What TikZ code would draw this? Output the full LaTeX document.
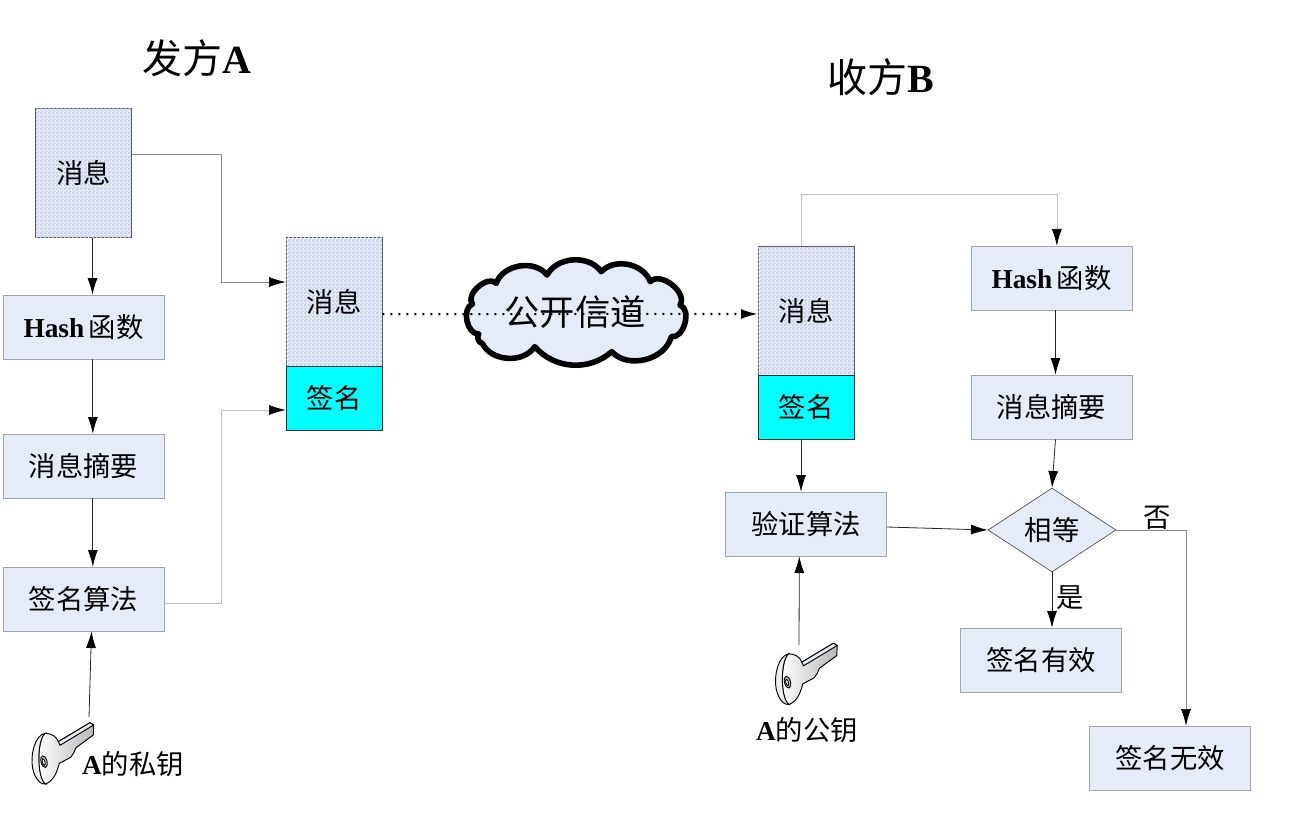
\documentclass[tikz,border=0pt]{standalone}
\usepackage{fontspec}
\setmainfont{Liberation Serif}
\newfontfamily\cjk{Noto Sans CJK SC}
\usetikzlibrary{arrows.meta,shapes.geometric,patterns,calc}
\pgfdeclarepatternformonly{finechecker}{\pgfpointorigin}{\pgfqpoint{3pt}{3pt}}{\pgfqpoint{3pt}{3pt}}{%
  \pgfpathrectangle{\pgfqpoint{0pt}{0pt}}{\pgfqpoint{1.5pt}{1.5pt}}%
  \pgfpathrectangle{\pgfqpoint{1.5pt}{1.5pt}}{\pgfqpoint{1.5pt}{1.5pt}}%
  \pgfusepath{fill}}
\definecolor{boxfill}{HTML}{E6ECF7}
\definecolor{patfill}{HTML}{E8ECF6}
\definecolor{patdot}{HTML}{BCCAE6}
\definecolor{edgegray}{HTML}{A0A5AE}
\definecolor{sigcyan}{HTML}{00FFFF}
\tikzset{
  label19/.style={font=\fontsize{20.5}{22}\selectfont\cjk},
  flowbox/.style={draw=edgegray,line width=.5pt,fill=boxfill,inner sep=0pt,minimum width=120.75pt,minimum height=48pt,label19},
  msgbox/.style={draw=black!65,line width=.5pt,fill=patfill,postaction={pattern=finechecker,pattern color=patdot},inner sep=0pt,minimum width=72pt,minimum height=96.5pt,label19},
  sigbox/.style={draw=black!80,line width=.5pt,fill=sigcyan,inner sep=0pt,minimum width=72pt,minimum height=48pt,label19},
  decision/.style={draw=black!70,line width=.5pt,fill=boxfill,shape=diamond,aspect=1.52,inner sep=0pt,minimum width=96pt,minimum height=63pt,label19},
  flow/.style={line width=.6pt,black!85,-{Latex[length=12.5pt,width=7.5pt,black]}},
  flowlight/.style={line width=.5pt,black!45,-{Latex[length=12.5pt,width=7.5pt,black]}},
  flowfaint/.style={line width=.5pt,black!25,-{Latex[length=12.5pt,width=7.5pt,black]}},
  dottedflow/.style={line width=1.5pt,black,dash pattern=on 1.5pt off 4.5pt,-{Latex[length=12.5pt,width=7.5pt,black]}},
  plaintext/.style={inner sep=0pt,label19},
  titletext/.style={inner sep=0pt,font=\fontsize{30}{32}\selectfont\cjk},
}
\newcommand{\latinb}[1]{{\rmfamily\bfseries #1}}
\newcommand{\keyicon}[2]{%
  \begin{scope}[shift={(#1,#2)},x=.25pt,y=-.25pt,line width=.7pt,draw=black]
    \path[left color=white,right color=black!28,draw=black,line join=round]
      (135,160) .. controls (155,160) and (170,170) .. (175,185)
      -- (270,128) -- (281,135) -- (280,165) -- (228,203)
      .. controls (222,215) and (220,225) .. (212,232)
      -- (178,250) .. controls (172,270) and (165,300) .. (137,312)
      .. controls (110,300) and (110,180) .. (135,160) -- cycle;
    \path[fill=boxfill,draw=black,line join=round]
      (175,185) -- (270,128) -- (281,135) -- (180,196) -- cycle;
    \path[fill=boxfill!70!black!20,draw=black]
      (135,160) .. controls (105,165) and (90,225) .. (98,265)
      .. controls (105,300) and (125,315) .. (137,312)
      .. controls (112,300) and (108,185) .. (135,160) -- cycle;
    \path[fill=black!20,draw=black] (132,245) ellipse[x radius=9,y radius=18,rotate=15];
    \path[fill=white,draw=black] (131,246) ellipse[x radius=4,y radius=10,rotate=15];
  \end{scope}}
\begin{document}
\begin{tikzpicture}[x=.75pt,y=-.75pt]
\useasboundingbox[fill=white] (0,0) rectangle (1296,838);

% titles
\node[titletext] (titleA) at (197,58) {发方\latinb{A}};
\node[titletext] (titleB) at (881,77) {收方\latinb{B}};

% sender
\node[msgbox] (msgA) at (83.5,173) {消息};
\node[flowbox] (hashA) at (83.5,327) {\latinb{Hash}\,函数};
\node[flowbox] (digestA) at (83.5,466) {消息摘要};
\node[flowbox] (signA) at (83.5,599) {签名算法};
\keyicon{0}{680}
\coordinate (keyAtip) at (89,717);
\node[plaintext] (keyAtext) at (133,764) {\latinb{A}的私钥};

% transmitted
\node[msgbox] (msgM) at (334,301.5) {消息};
\node[sigbox] (sigM) at (334,398) {签名};

% cloud
\begin{scope}[shift={(254.75,230)},x=.2625pt,y=-.25pt]
  \path[draw=black,line width=4.2pt,fill=boxfill,line join=round]
    (640,312) to[bend left=80] (622,222)
    to[bend left=90] (690,160)
    to[bend left=62] (835,135)
    to[bend left=58] (990,125)
    to[bend left=58] (1130,155)
    to[bend left=85] (1215,225)
    to[bend left=85] (1190,320)
    to[bend left=62] (1020,365)
    to[bend left=45] (800,350)
    to[bend left=60] (650,340)
    to[bend left=60] cycle;
\end{scope}
\node[inner sep=0pt,font=\fontsize{26.5}{28}\selectfont\cjk] (cloudtext) at (575,312) {公开信道};

% receiver
\node[msgbox] (msgB) at (806,310.5) {消息};
\node[sigbox] (sigB) at (806,407) {签名};
\node[flowbox] (verify) at (806,524) {验证算法};
\node[flowbox] (hashB) at (1051.5,278) {\latinb{Hash}\,函数};
\node[flowbox] (digestB) at (1051.5,407) {消息摘要};
\node[decision] (equal) at (1052,530) {相等};
\node[flowbox] (valid) at (1041,660) {签名有效};
\node[flowbox] (invalid) at (1170,758) {签名无效};
\keyicon{743.5}{600.5}
\coordinate (keyBtip) at (799,645);
\node[plaintext] (keyBtext) at (807,730) {\latinb{A}的公钥};

% connectors: sender
\draw[flow] ([xshift=6.75pt]msgA.south) -- ([xshift=6.75pt]hashA.north);
\draw[flow] ([xshift=7pt]hashA.south) -- ([xshift=7pt]digestA.north);
\draw[flow] ([xshift=7pt]digestA.south) -- ([xshift=7pt]signA.north);
\draw[flow] (keyAtip) -- ([xshift=6pt]signA.south);
\draw[flowlight] ([yshift=14.25pt]msgA.east) -- ++(89,0) |- ([yshift=14.6pt]msgM.west);
\draw[flowfaint] ([yshift=-3pt]signA.east) -- ++(57,0) |- ([yshift=-9pt]sigM.west);

% channel
\draw[dottedflow] ([yshift=-9.4pt]msgM.east) -- ([yshift=-2.6pt]msgB.west);

% connectors: receiver
\draw[flowfaint] ([xshift=-3.75pt]msgB.north) -- ++(0,-51) -| ([xshift=4pt]hashB.north);
\draw[flow] ([xshift=-3.75pt]sigB.south) -- ([xshift=-3.75pt]verify.north);
\draw[flow] (keyBtip) -- ([xshift=-5pt]verify.south);
\draw[flow] ([xshift=3pt]hashB.south) -- ([xshift=3pt]digestB.north);
\draw[flow] ([xshift=3pt]digestB.south) -- (equal.north);
\draw[flow] ([yshift=-2.25pt]verify.east) -- (equal.west);
\draw[flow] (equal.south) -- (equal.south |- valid.north);
\draw[flowlight] (equal.east) -| (invalid.north -| 1186,0);
\node[plaintext] (yes) at (1070,598) {是};
\node[plaintext] (no) at (1157,518) {否};
\end{tikzpicture}
\end{document}
